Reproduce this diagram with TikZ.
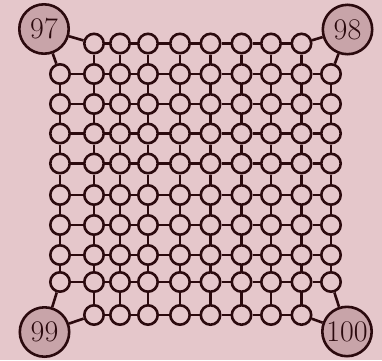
\documentclass[tikz,border=0pt]{standalone}
\definecolor{bg}{RGB}{229,199,203}
\definecolor{ink}{RGB}{43,10,14}
\definecolor{bigfill}{RGB}{200,164,169}
\begin{document}
\begin{tikzpicture}[x=1pt,y=-1pt,
  small/.style={circle,draw=ink,line width=2.6pt,fill=bg,minimum size=19.4pt,inner sep=0pt},
  big/.style={circle,draw=ink,line width=2.6pt,fill=bigfill,minimum size=49.4pt,inner sep=0pt,font=\fontsize{30}{30}\selectfont,text=ink},
  link/.style={draw=ink,line width=2.6pt}]
\fill[bg] (0,0) rectangle (382,360);
\useasboundingbox (0,0) rectangle (382,360);
\foreach \x [count=\i from 0] in {60,94,120,148,180,210.5,241.5,271,301.5,331} {
  \foreach \y [count=\j from 0] in {43.5,74,104,133.5,163.5,195,225,255,282,315} {
    \pgfmathtruncatemacro{\corner}{((\i==0)||(\i==9))&&((\j==0)||(\j==9))}
    \ifnum\corner=0 \node[small] (n-\i-\j) at (\x,\y) {}; \fi
  }
}
\node[big] (a97) at (44,29) {97};
\node[big] (a98) at (347.5,29.5) {98};
\node[big] (a99) at (44.5,332) {99};
\node[big] (a100) at (347,331.5) {100};
% horizontal edges
\foreach \i in {0,...,8} {
  \foreach \j in {0,...,9} {
    \pgfmathtruncatemacro{\nxt}{\i+1}
    \pgfmathtruncatemacro{\skipit}{((\j==0)||(\j==9))&&((\i==0)||(\i==8))}
    \ifnum\skipit=0 \draw[link] (n-\i-\j) -- (n-\nxt-\j); \fi
  }
}
% vertical edges
\foreach \i in {0,...,9} {
  \foreach \j in {0,...,8} {
    \pgfmathtruncatemacro{\nxt}{\j+1}
    \pgfmathtruncatemacro{\skipit}{((\i==0)||(\i==9))&&((\j==0)||(\j==8))}
    \ifnum\skipit=0 \draw[link] (n-\i-\j) -- (n-\i-\nxt); \fi
  }
}
\draw[link] (a97) -- (n-1-0);
\draw[link] (a97) -- (n-0-1);
\draw[link] (a98) -- (n-8-0);
\draw[link] (a98) -- (n-9-1);
\draw[link] (a99) -- (n-0-8);
\draw[link] (a99) -- (n-1-9);
\draw[link] (a100) -- (n-9-8);
\draw[link] (a100) -- (n-8-9);
\end{tikzpicture}
\end{document}
